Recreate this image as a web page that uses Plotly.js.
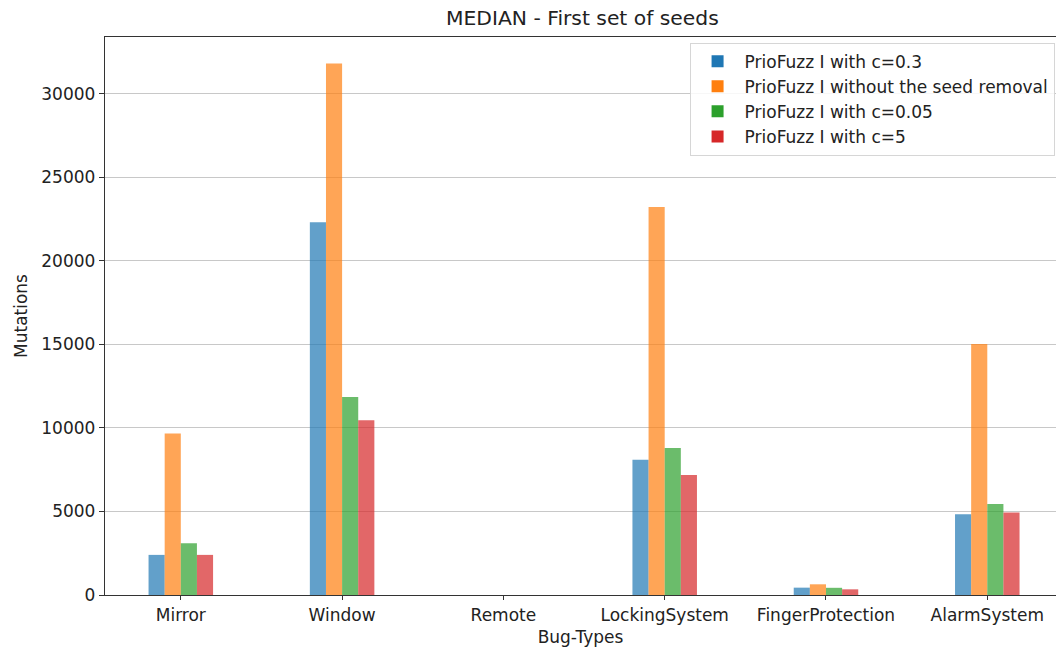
<!DOCTYPE html>
<html>
<head>
<meta charset="utf-8">
<script src="https://cdn.plot.ly/plotly-3.0.1.min.js"></script>
<style>html,body{margin:0;padding:0;background:#fff;}#chart{width:1056px;height:650px;}</style>
</head>
<body>
<div id="chart"></div>
<script>
const categories = ["Mirror", "Window", "Remote", "LockingSystem", "FingerProtection", "AlarmSystem"];
const seriesNames = ["PrioFuzz I with c=0.3", "PrioFuzz I without the seed removal", "PrioFuzz I with c=0.05", "PrioFuzz I with c=5"];
const withC03 = [2400, 22300, 0, 8100, 440, 4830];
const withoutRemoval = [9660, 31800, 0, 23220, 640, 15020];
const withC005 = [3100, 11850, 0, 8800, 430, 5440];
const withC5 = [2400, 10460, 0, 7180, 340, 4930];
const seriesValues = [withC03, withoutRemoval, withC005, withC5];
const colors = ["#1f77b4", "#ff7f0e", "#2ca02c", "#d62728"];

const FONT = "DejaVu Sans, sans-serif";
const FS = 17;
const traces = seriesNames.map((name, i) => ({
  type: "bar",
  name: name,
  x: categories,
  y: seriesValues[i],
  marker: {color: colors[i], opacity: 0.7, line: {width: 0}},
  hoverinfo: "y+name"
}));

const ymax = Math.max(...withoutRemoval) * 1.05;

const layout = {
  width: 1056,
  height: 650,
  paper_bgcolor: "#ffffff",
  plot_bgcolor: "#ffffff",
  margin: {l: 105, r: 0, t: 37, b: 55},
  barmode: "group",
  bargap: 0.6,
  bargroupgap: 0,
  font: {family: FONT, size: FS, color: "#222"},
  title: {text: "MEDIAN - First set of seeds", x: 0.5515, xanchor: "center", y: 0.972, yanchor: "middle", font: {family: FONT, size: 20.3, color: "#222"}},
  xaxis: {
    type: "category",
    range: [-0.47, 5.426],
    showgrid: false,
    showline: true, linecolor: "#333", linewidth: 1.2, mirror: true,
    ticks: "outside", ticklen: 4, tickcolor: "#333", tickwidth: 1,
    tickfont: {family: FONT, size: FS, color: "#222"},
    title: {text: "Bug-Types", font: {family: FONT, size: FS, color: "#222"}, standoff: 7},
    zeroline: false
  },
  yaxis: {
    range: [0, ymax],
    tickvals: [0, 5000, 10000, 15000, 20000, 25000, 30000],
    ticktext: ["0", "5000", "10000", "15000", "20000", "25000", "30000"],
    showgrid: true, gridcolor: "#c8c8c8", gridwidth: 1.2,
    showline: true, linecolor: "#333", linewidth: 1.2,
    ticks: "outside", ticklen: 5, tickcolor: "#333", tickwidth: 1,
    tickfont: {family: FONT, size: FS, color: "#222"},
    title: {text: "Mutations", font: {family: FONT, size: FS, color: "#222"}, standoff: 9},
    zeroline: false
  },
  legend: {
    x: 0.9985, xanchor: "right",
    y: 0.99, yanchor: "top",
    bgcolor: "rgba(255,255,255,0.85)",
    bordercolor: "#d6d6d6", borderwidth: 1,
    font: {family: FONT, size: FS, color: "#222"},
    itemwidth: 44
  },
  showlegend: true
};

Plotly.newPlot("chart", traces, layout, {displayModeBar: false, staticPlot: true});
</script>
</body>
</html>
